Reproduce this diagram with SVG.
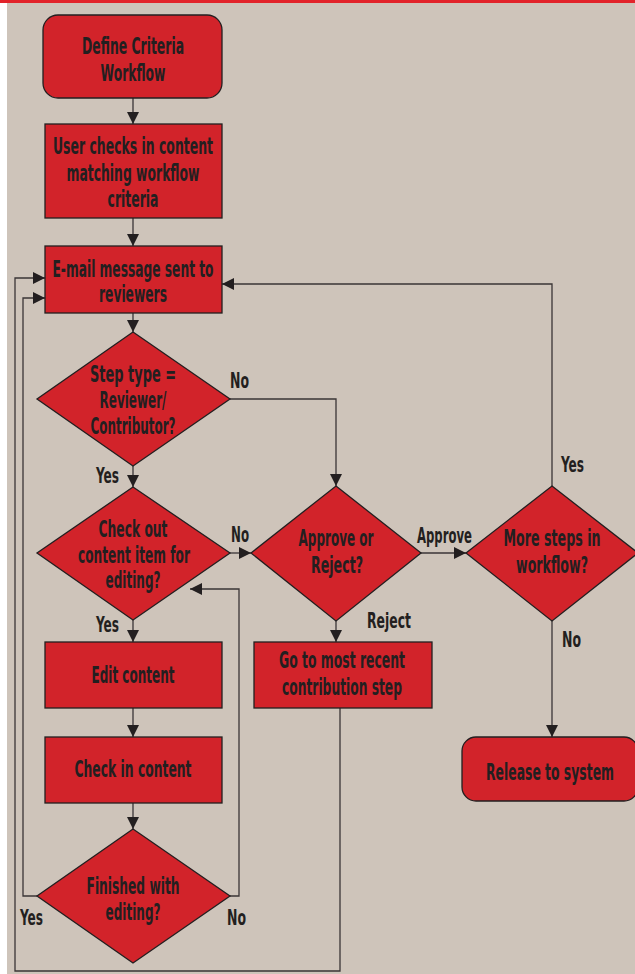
<svg xmlns="http://www.w3.org/2000/svg" width="635" height="974" viewBox="0 0 635 974">
<style>
.n{fill:#d2232a;stroke:#231f20;stroke-width:1.3}
.t{font-family:"Liberation Sans Narrow","DejaVu Sans Condensed","Liberation Sans",sans-serif;font-weight:bold;font-size:23px;fill:#231f20;text-anchor:middle}
.l{font-family:"Liberation Sans Narrow","DejaVu Sans Condensed","Liberation Sans",sans-serif;font-weight:bold;font-size:22px;fill:#231f20;text-anchor:start}
.c{fill:none;stroke:#3a3536;stroke-width:1.3;marker-end:url(#ah)}
</style>
<defs>
<marker id="ah" markerUnits="userSpaceOnUse" markerWidth="12" markerHeight="12" viewBox="0 0 12 12" refX="12" refY="6" orient="auto">
<path d="M0,0 L12,6 L0,12 Z" fill="#231f20"/>
</marker>
</defs>
<rect x="0" y="0" width="635" height="974" fill="#ffffff"/>
<rect x="7" y="0" width="628" height="974" fill="#cec4ba"/>
<rect x="0" y="0" width="635" height="3" fill="#e2232a"/>

<g id="connectors">
<path class="c" d="M133,98 V124"/>
<path class="c" d="M133,218 V246"/>
<path class="c" d="M133,313 V332"/>
<path class="c" d="M133,466 V487"/>
<path class="c" d="M230,399 H336 V486"/>
<path class="c" d="M230,553 H251"/>
<path class="c" d="M133,620 V642"/>
<path class="c" d="M133,708 V737"/>
<path class="c" d="M133,803 V829"/>
<path class="c" d="M230,896 H239 V589 H190"/>
<path class="c" d="M37,896 H23 V298 H45"/>
<path class="c" d="M340,708 V971 H15 V278 H45"/>
<path class="c" d="M336,621 V642"/>
<path class="c" d="M421,553 H466"/>
<path class="c" d="M552,486 V284 H222"/>
<path class="c" d="M552,621 V737"/>
<text class="l" x="230" y="388" textLength="19" lengthAdjust="spacingAndGlyphs">No</text>
<text class="l" x="96" y="483" textLength="23" lengthAdjust="spacingAndGlyphs">Yes</text>
<text class="l" x="231" y="542" textLength="18" lengthAdjust="spacingAndGlyphs">No</text>
<text class="l" x="96" y="632" textLength="23" lengthAdjust="spacingAndGlyphs">Yes</text>
<text class="l" x="417" y="543" textLength="55" lengthAdjust="spacingAndGlyphs">Approve</text>
<text class="l" x="367" y="628" textLength="44" lengthAdjust="spacingAndGlyphs">Reject</text>
<text class="l" x="561" y="472" textLength="23" lengthAdjust="spacingAndGlyphs">Yes</text>
<text class="l" x="562" y="647" textLength="19" lengthAdjust="spacingAndGlyphs">No</text>
<text class="l" x="20" y="925" textLength="23" lengthAdjust="spacingAndGlyphs">Yes</text>
<text class="l" x="227" y="925" textLength="19" lengthAdjust="spacingAndGlyphs">No</text>
</g>

<g id="define">
<rect class="n" x="43" y="15" width="179" height="83" rx="15"/>
<text class="t" x="133" y="54" textLength="102" lengthAdjust="spacingAndGlyphs">Define Criteria</text>
<text class="t" x="133" y="81" textLength="65" lengthAdjust="spacingAndGlyphs">Workflow</text>
</g>
<g id="checkin-user">
<rect class="n" x="45" y="124" width="177" height="94"/>
<text class="t" x="133" y="154" textLength="160" lengthAdjust="spacingAndGlyphs">User checks in content</text>
<text class="t" x="133" y="181" textLength="133" lengthAdjust="spacingAndGlyphs">matching workflow</text>
<text class="t" x="133" y="207" textLength="51" lengthAdjust="spacingAndGlyphs">criteria</text>
</g>
<g id="email">
<rect class="n" x="45" y="246" width="177" height="67"/>
<text class="t" x="133" y="277" textLength="161" lengthAdjust="spacingAndGlyphs">E-mail message sent to</text>
<text class="t" x="133" y="302" textLength="68" lengthAdjust="spacingAndGlyphs">reviewers</text>
</g>
<g id="steptype">
<polygon class="n" points="133,332 230,399 133,466 37,399"/>
<text class="t" x="133" y="382" textLength="86" lengthAdjust="spacingAndGlyphs">Step type =</text>
<text class="t" x="133" y="408" textLength="67" lengthAdjust="spacingAndGlyphs">Reviewer/</text>
<text class="t" x="133" y="434" textLength="85" lengthAdjust="spacingAndGlyphs">Contributor?</text>
</g>
<g id="checkout">
<polygon class="n" points="133,487 230,553 133,620 37,553"/>
<text class="t" x="133" y="537" textLength="69" lengthAdjust="spacingAndGlyphs">Check out</text>
<text class="t" x="134" y="563" textLength="112" lengthAdjust="spacingAndGlyphs">content item for</text>
<text class="t" x="133" y="588" textLength="55" lengthAdjust="spacingAndGlyphs">editing?</text>
</g>
<g id="edit">
<rect class="n" x="45" y="642" width="177" height="66"/>
<text class="t" x="133" y="683" textLength="83" lengthAdjust="spacingAndGlyphs">Edit content</text>
</g>
<g id="checkincontent">
<rect class="n" x="45" y="737" width="177" height="66"/>
<text class="t" x="133" y="777" textLength="117" lengthAdjust="spacingAndGlyphs">Check in content</text>
</g>
<g id="finished">
<polygon class="n" points="133,829 230,896 133,963 37,896"/>
<text class="t" x="133" y="894" textLength="93" lengthAdjust="spacingAndGlyphs">Finished with</text>
<text class="t" x="133" y="920" textLength="55" lengthAdjust="spacingAndGlyphs">editing?</text>
</g>
<g id="approve">
<polygon class="n" points="336,486 421,553 336,621 251,553"/>
<text class="t" x="336" y="546" textLength="75" lengthAdjust="spacingAndGlyphs">Approve or</text>
<text class="t" x="337" y="573" textLength="52" lengthAdjust="spacingAndGlyphs">Reject?</text>
</g>
<g id="gorecent">
<rect class="n" x="254" y="642" width="178" height="66"/>
<text class="t" x="342" y="668" textLength="126" lengthAdjust="spacingAndGlyphs">Go to most recent</text>
<text class="t" x="342" y="695" textLength="120" lengthAdjust="spacingAndGlyphs">contribution step</text>
</g>
<g id="moresteps">
<polygon class="n" points="552,486 638,553 552,621 466,553"/>
<text class="t" x="552" y="546" textLength="97" lengthAdjust="spacingAndGlyphs">More steps in</text>
<text class="t" x="552" y="573" textLength="72" lengthAdjust="spacingAndGlyphs">workflow?</text>
</g>
<g id="release">
<rect class="n" x="462" y="737" width="176" height="64" rx="14"/>
<text class="t" x="550" y="780" textLength="128" lengthAdjust="spacingAndGlyphs">Release to system</text>
</g>
</svg>
